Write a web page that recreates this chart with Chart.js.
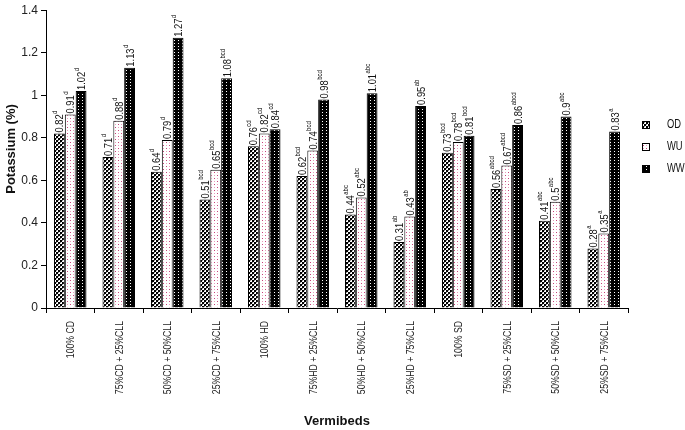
<!DOCTYPE html>
<html>
<head>
<meta charset="utf-8">
<script src="https://cdn.jsdelivr.net/npm/chart.js@4/dist/chart.umd.min.js"></script>
<style>
	html, body { margin: 0; padding: 0; background: #fff; }
	#wrap { width: 685px; height: 430px; }
</style>
</head>
<body>
<div id="wrap"><canvas id="bar-chart" width="685" height="430"></canvas></div>
<script>
// Vermibed treatments
var categories = ["100% CD", "75%CD + 25%CLL", "50%CD + 50%CLL", "25%CD + 75%CLL",
	"100% HD", "75%HD + 25%CLL", "50%HD + 50%CLL", "25%HD + 75%CLL",
	"100% SD", "75%SD + 25%CLL", "50%SD + 50%CLL", "25%SD + 75%CLL"];

// Potassium (%) per series
var odValues = [0.82, 0.71, 0.64, 0.51, 0.76, 0.62, 0.44, 0.31, 0.73, 0.56, 0.41, 0.28];
var wuValues = [0.91, 0.88, 0.79, 0.65, 0.82, 0.74, 0.52, 0.43, 0.78, 0.67, 0.5, 0.35];
var wwValues = [1.02, 1.13, 1.27, 1.08, 0.84, 0.98, 1.01, 0.95, 0.81, 0.86, 0.9, 0.83];

// Significance letters (same for every series in a group)
var letters = ["d", "d", "d", "bcd", "cd", "bcd", "abc", "ab", "bcd", "abcd", "abc", "a"];

var yTicks = [0, 0.2, 0.4, 0.6, 0.8, 1, 1.2, 1.4];

var sans = '"Liberation Sans", Arial, sans-serif';

/***************************************
            Fill patterns
***************************************/

function makePattern(size, draw) {
	var c = document.createElement('canvas');
	c.width = size[0];
	c.height = size[1];
	var g = c.getContext('2d');
	draw(g);
	return document.getElementById('bar-chart').getContext('2d').createPattern(c, 'repeat');
}

// checker for OD
var odPattern = makePattern([4, 4], function (g) {
	g.fillStyle = '#fff';
	g.fillRect(0, 0, 4, 4);
	g.fillStyle = '#000';
	g.fillRect(0, 0, 2, 2);
	g.fillRect(2, 2, 2, 2);
	g.fillStyle = '#888';
	g.fillRect(2, 0, 1, 1);
	g.fillRect(0, 2, 1, 1);
});

// pink dots for WU
var wuPattern = makePattern([6, 6], function (g) {
	g.fillStyle = '#fff';
	g.fillRect(0, 0, 6, 6);
	g.fillStyle = '#c8407a';
	g.fillRect(1, 1, 1, 1);
	g.fillRect(4, 4, 1, 1);
	g.fillStyle = '#e8a0bc';
	g.fillRect(4, 1, 1, 1);
	g.fillRect(1, 4, 1, 1);
});

// white dots on black for WW
var wwPattern = makePattern([4, 3], function (g) {
	g.fillStyle = '#000';
	g.fillRect(0, 0, 4, 3);
	g.fillStyle = '#fff';
	g.fillRect(2, 1, 1, 1);
});

// narrow-looking text: squeeze along the reading direction
function squeezed(ctx, txt, x, y, k) {
	ctx.save();
	ctx.translate(x, y);
	ctx.scale(k, 1);
	ctx.fillText(txt, 0, 0);
	ctx.restore();
}

/***************************************
        Labels on top of the bars
***************************************/

var barLabels = {
	id: 'barLabels',
	afterDatasetsDraw: function (chart) {
		var ctx = chart.ctx;
		chart.data.datasets.forEach(function (ds, i) {
			chart.getDatasetMeta(i).data.forEach(function (bar, j) {
				var txt = String(ds.data[j]);
				ctx.save();
				ctx.translate(bar.x, bar.y - 1);
				ctx.rotate(-Math.PI / 2);
				ctx.fillStyle = '#111';
				ctx.textAlign = 'left';
				ctx.textBaseline = 'middle';
				ctx.font = '11px ' + sans;
				var k = 0.85;
				squeezed(ctx, txt, 0, 1, k);
				var w = ctx.measureText(txt).width * k;
				ctx.font = '7px ' + sans;
				squeezed(ctx, letters[j], w + 0.5, -4, k);
				ctx.restore();
			});
		});
	}
};

// x labels, legend on the right and the y title, placed by hand
var sideText = {
	id: 'sideText',
	afterDraw: function (chart) {
		var ctx = chart.ctx;
		var xs = chart.scales.x;

		categories.forEach(function (lab, i) {
			ctx.save();
			ctx.translate(xs.getPixelForValue(i) + 1, 321);
			ctx.rotate(-Math.PI / 2);
			ctx.fillStyle = '#222';
			ctx.font = '11px ' + sans;
			ctx.textAlign = 'right';
			ctx.textBaseline = 'middle';
			squeezed(ctx, lab, 0, 0, 0.79);
			ctx.restore();
		});

		var rows = [125, 147, 169];
		chart.data.datasets.forEach(function (ds, i) {
			ctx.save();
			ctx.fillStyle = ds.backgroundColor;
			ctx.fillRect(642, rows[i] - 4, 8, 8);
			ctx.strokeStyle = '#000';
			ctx.lineWidth = 1;
			ctx.strokeRect(642.5, rows[i] - 3.5, 7, 7);
			ctx.fillStyle = '#111';
			ctx.font = '12px ' + sans;
			ctx.textBaseline = 'middle';
			squeezed(ctx, ds.label, 667, rows[i], 0.78);
			ctx.restore();
		});

		ctx.save();
		ctx.translate(11, 149);
		ctx.rotate(-Math.PI / 2);
		ctx.fillStyle = '#111';
		ctx.font = 'bold 13px ' + sans;
		ctx.textAlign = 'center';
		ctx.textBaseline = 'middle';
		ctx.fillText('Potassium (%)', 0, 0);
		ctx.restore();
	}
};

/***************************************
               The chart
***************************************/

var series = [
	{label: 'OD', data: odValues, backgroundColor: odPattern},
	{label: 'WU', data: wuValues, backgroundColor: wuPattern},
	{label: 'WW', data: wwValues, backgroundColor: wwPattern}
];

new Chart(document.getElementById('bar-chart'), {
	type: 'bar',
	data: {
		labels: categories,
		datasets: series.map(function (s) {
			return {
				label: s.label,
				data: s.data,
				backgroundColor: s.backgroundColor,
				borderColor: '#000',
				borderWidth: 1,
				borderSkipped: 'bottom',
				categoryPercentage: 0.67,
				barPercentage: 1
			};
		})
	},
	plugins: [barLabels, sideText],
	options: {
		responsive: false,
		animation: false,
		layout: {padding: {top: 7, right: 57, bottom: 0, left: 0}},
		plugins: {
			legend: {display: false},
			tooltip: {enabled: false}
		},
		scales: {
			x: {
				afterFit: function (scale) { scale.height = 122; },
				grid: {
					offset: true,
					drawOnChartArea: false,
					tickLength: 5,
					color: '#000'
				},
				border: {color: '#000', width: 1},
				ticks: {display: false},
				title: {
					display: true,
					text: 'Vermibeds',
					color: '#111',
					padding: {top: 0, bottom: 1},
					font: {family: sans, size: 13, weight: 'bold'}
				}
			},
			y: {
				min: 0,
				max: 1.4,
				afterFit: function (scale) { scale.width = 46; },
				afterBuildTicks: function (scale) {
					scale.ticks = yTicks.map(function (v) { return {value: v}; });
				},
				grid: {
					drawOnChartArea: false,
					tickLength: 5,
					color: '#000'
				},
				border: {color: '#000', width: 1},
				ticks: {
					color: '#222',
					padding: 3,
					font: {family: sans, size: 12},
					callback: function (v) { return String(+v.toFixed(1)); }
				}
			}
		}
	}
});
</script>
</body>
</html>
